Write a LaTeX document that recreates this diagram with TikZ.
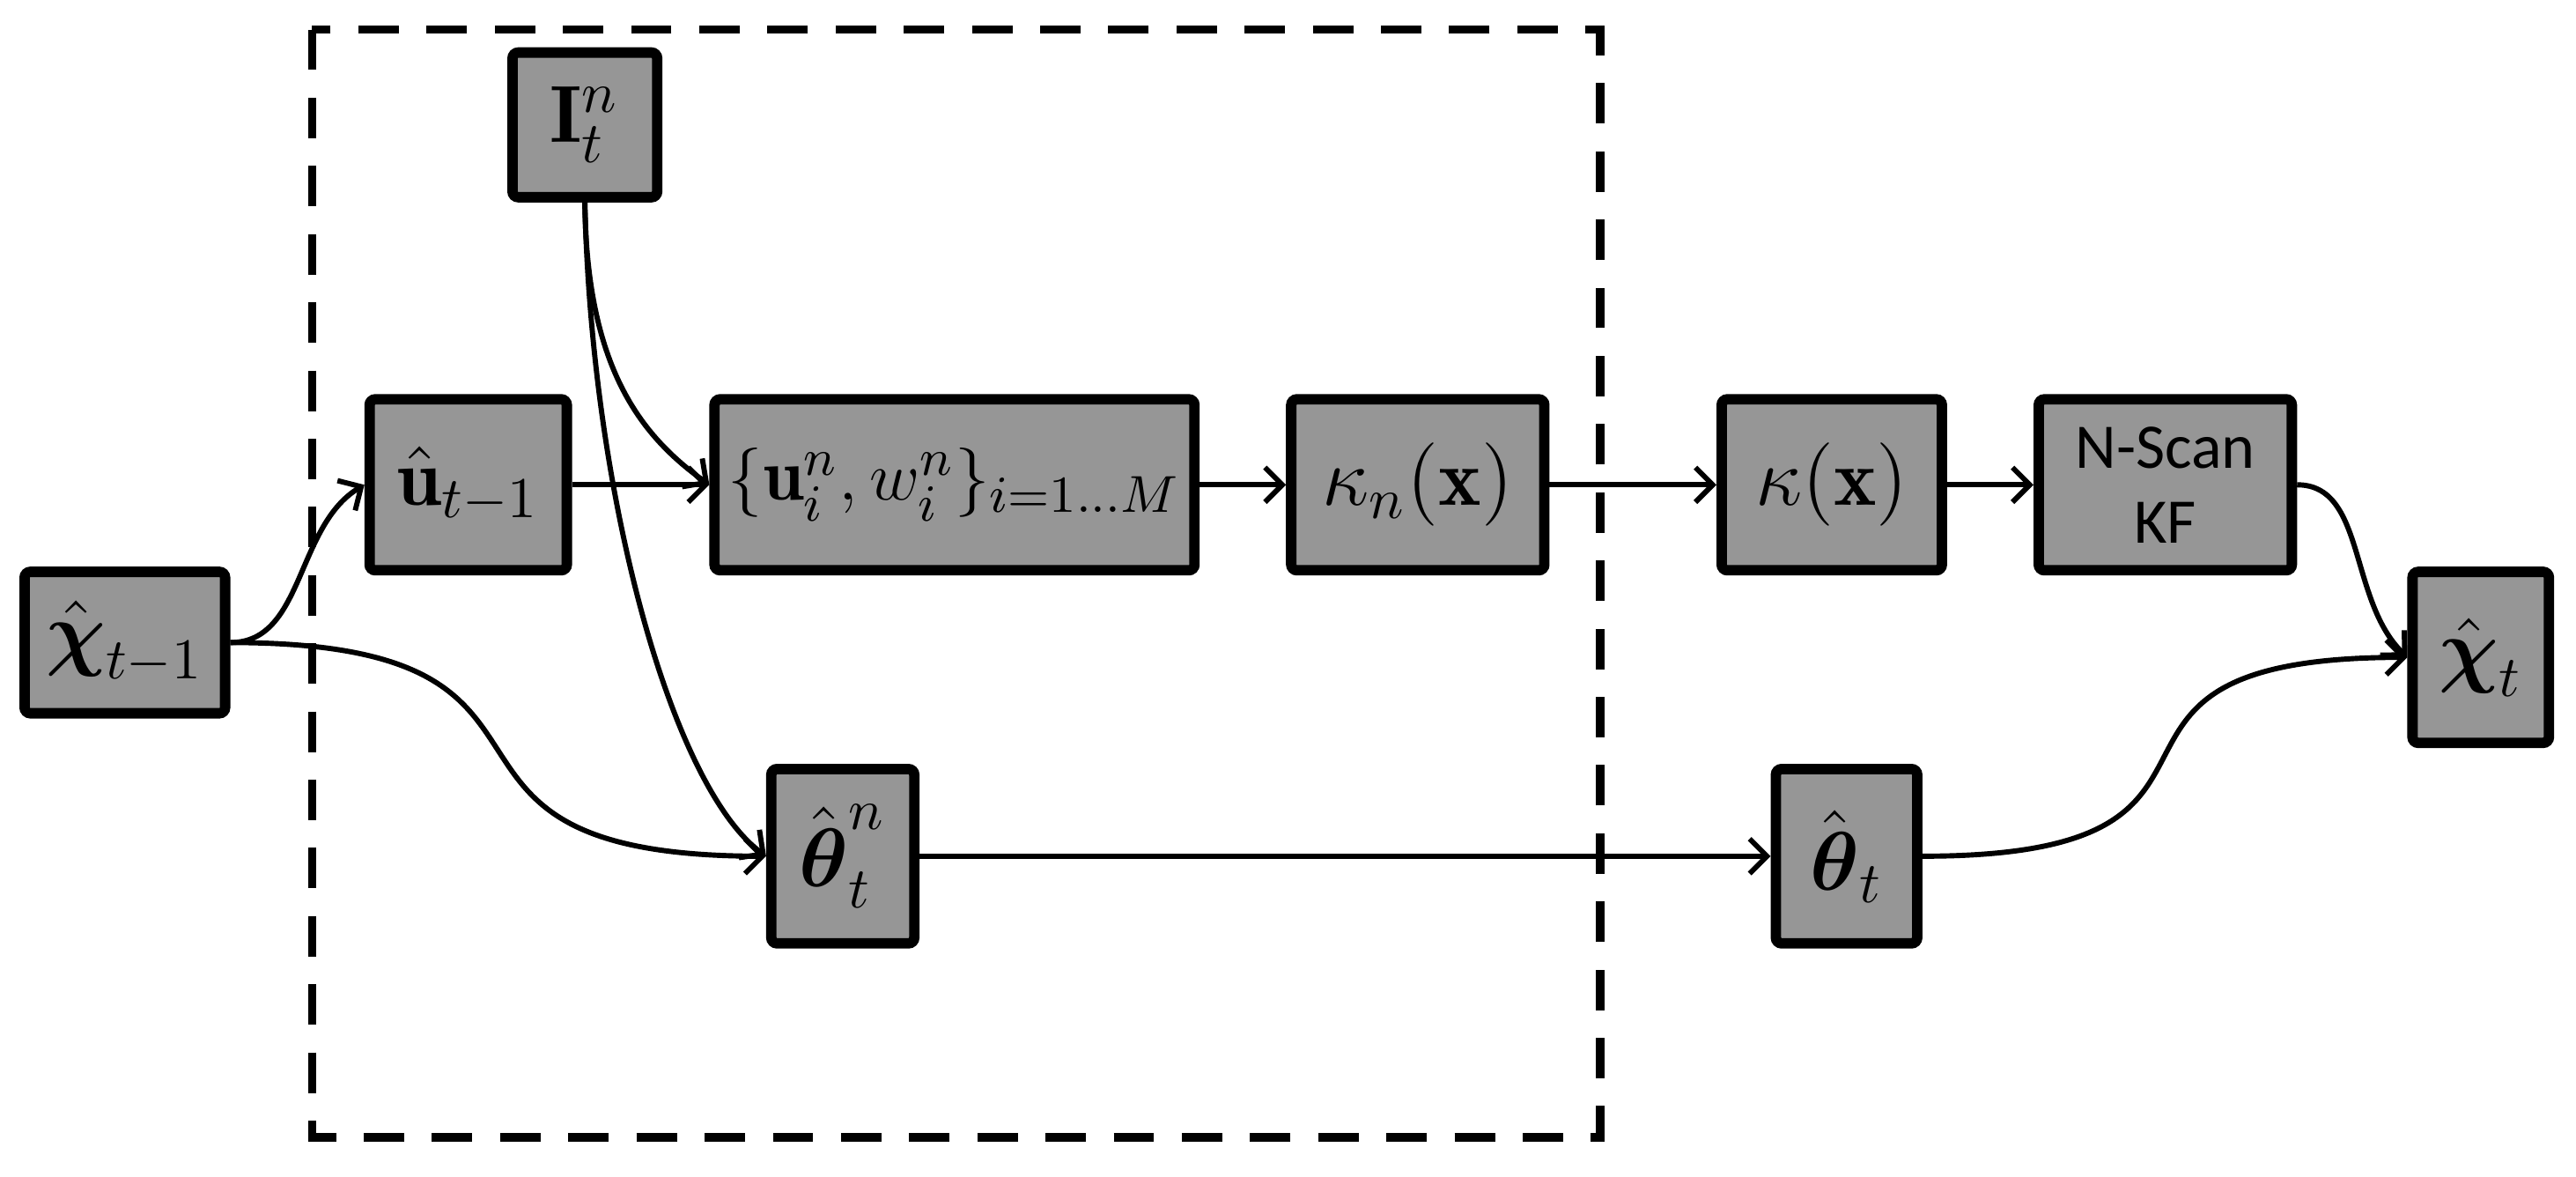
\documentclass[tikz,border=0pt]{standalone}
\usepackage{amsmath,amssymb}
\usepackage{fontspec}
\newfontfamily\calfont{Carlito}
\usetikzlibrary{arrows.meta}

\definecolor{boxgray}{RGB}{150,150,150}
\tikzset{every picture/.style={line width=0.75pt}}
\tikzset{
  blk/.style={draw, fill=boxgray, line width=1.8pt, rounded corners=1pt, inner sep=0pt,
    font=\fontsize{14}{17}\selectfont},
  conn/.style={line width=0.9pt, -{Straight Barb[length=3pt,width=6pt]}},
  frame/.style={line width=1.5pt, dash pattern=on 7pt off 4.8pt}
}

\begin{document}
\begin{tikzpicture}[x=0.01cm,y=0.01cm,yscale=-1]
\useasboundingbox (0,0) rectangle (1568,716);

%Shape: Dashed Rectangle
\draw[frame] (190,18) rectangle (974,692);

% Text Node
\node[blk, minimum width=0.88cm, minimum height=0.88cm] (img) at (356,76) {$\mathbf{I}_t^n$};
% Text Node
\node[blk, minimum width=1.2cm, minimum height=1.04cm] (uprev) at (285,295) {$\hat{\mathbf{u}}_{t-1}$};
% Text Node
\node[blk, minimum width=2.92cm, minimum height=1.04cm, font=\fontsize{12.8}{15}\selectfont] (parts) at (581,295) {$\{\mathbf{u}_i^n,w_i^n\}_{i=1\ldots M}$};
% Text Node
\node[blk, minimum width=1.54cm, minimum height=1.04cm] (kern) at (863,295) {$\kappa_n(\mathbf{x})$};
% Text Node
\node[blk, minimum width=1.34cm, minimum height=1.04cm] (kall) at (1115,295) {$\kappa(\mathbf{x})$};
% Text Node
\node[blk, minimum width=1.54cm, minimum height=1.04cm, align=center,
  font=\calfont\fontsize{11}{13}\selectfont] (nscan) at (1318,295) {N-Scan\\KF};
% Text Node
\node[blk, minimum width=1.22cm, minimum height=0.86cm] (chiprev) at (76,391) {$\hat{\boldsymbol{\chi}}_{t-1}$};
% Text Node
\node[blk, minimum width=0.83cm, minimum height=1.04cm] (chinow) at (1510,400) {$\hat{\boldsymbol{\chi}}_t$};
% Text Node
\node[blk, minimum width=0.87cm, minimum height=1.06cm] (thetan) at (513,521) {$\hat{\boldsymbol{\theta}}_t^n$};
% Text Node
\node[blk, minimum width=0.86cm, minimum height=1.06cm] (theta) at (1124,521) {$\hat{\boldsymbol{\theta}}_t$};

%Straight Lines
\draw[conn] (uprev) -- (parts);
\draw[conn] (parts) -- (kern);
\draw[conn] (kern) -- (kall);
\draw[conn] (kall) -- (nscan);
\draw[conn] (thetan) -- (theta);

%Curves
\draw[conn] (img.south) .. controls +(1,100) and +(-42,-30) .. (parts.west);
\draw[conn] (img.south) .. controls +(4,180) and +(-57,-42) .. (thetan.west);
\draw[conn] (chiprev.east) .. controls +(45,0) and +(-42,25) .. (uprev.west);
\draw[conn] (chiprev.east) .. controls +(240,0) and +(-240,0) .. (thetan.west);
\draw[conn] (theta.east) .. controls +(230,0) and +(-230,0) .. (chinow.west);
\draw[conn] (nscan.east) .. controls +(42,0) and +(-36,-35) .. (chinow.west);

\end{tikzpicture}
\end{document}
